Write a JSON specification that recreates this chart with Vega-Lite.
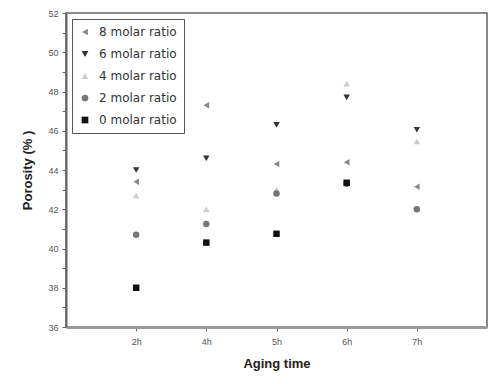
{
  "$schema": "https://vega.github.io/schema/vega-lite/v6.json",
  "width": 421,
  "height": 314,
  "autosize": "none",
  "padding": {"left": 66, "top": 13, "right": 2, "bottom": 57},
  "background": "white",
  "config": {
    "font": "Liberation Sans",
    "view": {"stroke": "#666", "strokeWidth": 1.5}
  },
  "data": {
    "values": [
      {"time": "2h", "series": "8 molar ratio", "porosity": 43.4},
      {"time": "4h", "series": "8 molar ratio", "porosity": 47.3},
      {"time": "5h", "series": "8 molar ratio", "porosity": 44.3},
      {"time": "6h", "series": "8 molar ratio", "porosity": 44.4},
      {"time": "7h", "series": "8 molar ratio", "porosity": 43.15},
      {"time": "2h", "series": "6 molar ratio", "porosity": 44.0},
      {"time": "4h", "series": "6 molar ratio", "porosity": 44.6},
      {"time": "5h", "series": "6 molar ratio", "porosity": 46.3},
      {"time": "6h", "series": "6 molar ratio", "porosity": 47.7},
      {"time": "7h", "series": "6 molar ratio", "porosity": 46.05},
      {"time": "2h", "series": "4 molar ratio", "porosity": 42.7},
      {"time": "4h", "series": "4 molar ratio", "porosity": 42.0},
      {"time": "5h", "series": "4 molar ratio", "porosity": 43.0},
      {"time": "6h", "series": "4 molar ratio", "porosity": 48.4},
      {"time": "7h", "series": "4 molar ratio", "porosity": 45.45},
      {"time": "2h", "series": "2 molar ratio", "porosity": 40.7},
      {"time": "4h", "series": "2 molar ratio", "porosity": 41.25},
      {"time": "5h", "series": "2 molar ratio", "porosity": 42.8},
      {"time": "6h", "series": "2 molar ratio", "porosity": 43.3},
      {"time": "7h", "series": "2 molar ratio", "porosity": 42.0},
      {"time": "2h", "series": "0 molar ratio", "porosity": 38.0},
      {"time": "4h", "series": "0 molar ratio", "porosity": 40.3},
      {"time": "5h", "series": "0 molar ratio", "porosity": 40.75},
      {"time": "6h", "series": "0 molar ratio", "porosity": 43.35}
    ]
  },
  "mark": {"type": "point", "filled": true, "size": 42, "opacity": 1},
  "encoding": {
    "x": {
      "field": "time",
      "type": "nominal",
      "sort": ["2h", "4h", "5h", "6h", "7h"],
      "scale": {"type": "point", "padding": 1},
      "axis": {
        "title": "Aging time",
        "titleFontSize": 13,
        "titleFontWeight": "bold",
        "titleColor": "#222",
        "titlePadding": 11,
        "labelAngle": 0,
        "labelFontSize": 9,
        "labelColor": "#555",
        "labelPadding": 6,
        "domainColor": "#999",
        "domainWidth": 3,
        "tickColor": "#666",
        "tickSize": 4,
        "grid": false
      }
    },
    "y": {
      "field": "porosity",
      "type": "quantitative",
      "scale": {"domain": [36, 52], "nice": false, "zero": false},
      "axis": {
        "title": "Porosity (% )",
        "titleFontSize": 13,
        "titleFontWeight": "bold",
        "titleColor": "#222",
        "titlePadding": 13,
        "values": [36, 37, 38, 39, 40, 41, 42, 43, 44, 45, 46, 47, 48, 49, 50, 51, 52],
        "labelExpr": "datum.value % 2 == 0 ? datum.label : ''",
        "labelFontSize": 9,
        "labelColor": "#555",
        "labelPadding": 4,
        "domainColor": "#666",
        "domainWidth": 2,
        "tickColor": "#666",
        "tickSize": 4,
        "grid": false
      }
    },
    "shape": {
      "field": "series",
      "type": "nominal",
      "scale": {
        "domain": ["8 molar ratio", "6 molar ratio", "4 molar ratio", "2 molar ratio", "0 molar ratio"],
        "range": ["triangle-left", "triangle-down", "triangle-up", "circle", "square"]
      },
      "legend": {
        "title": null,
        "orient": "top-left",
        "offset": 6,
        "strokeColor": "#555",
        "padding": 7,
        "labelFont": "DejaVu Sans",
        "labelFontSize": 12,
        "labelColor": "#333",
        "labelOffset": 8,
        "symbolSize": 45,
        "rowPadding": 10,
        "fillColor": "white"
      }
    },
    "color": {
      "field": "series",
      "type": "nominal",
      "scale": {
        "domain": ["8 molar ratio", "6 molar ratio", "4 molar ratio", "2 molar ratio", "0 molar ratio"],
        "range": ["#888888", "#333333", "#cccccc", "#777777", "#111111"]
      },
      "legend": {
        "title": null,
        "orient": "top-left",
        "offset": 6,
        "strokeColor": "#555",
        "padding": 7,
        "labelFont": "DejaVu Sans",
        "labelFontSize": 12,
        "labelColor": "#333",
        "labelOffset": 8,
        "symbolSize": 45,
        "rowPadding": 10,
        "fillColor": "white"
      }
    }
  }
}
